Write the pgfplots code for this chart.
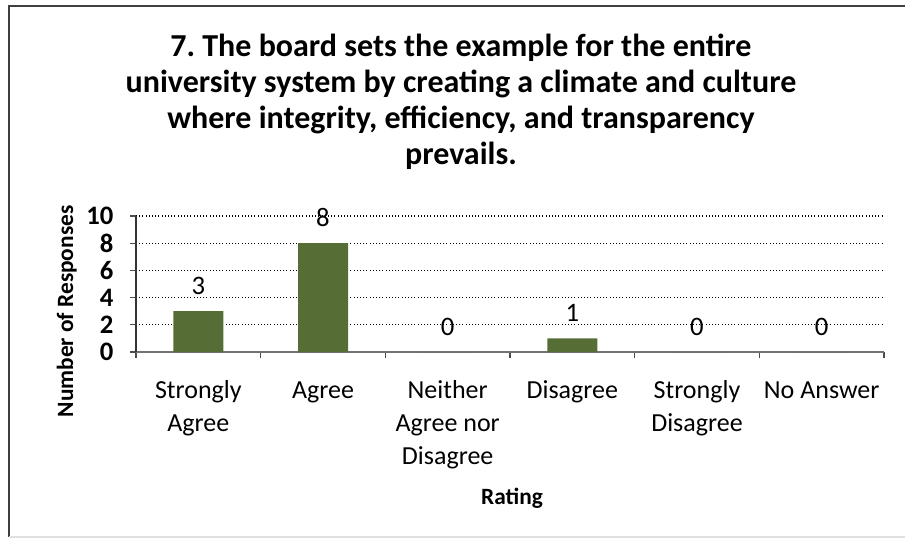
\documentclass[border=0pt]{standalone}
\usepackage{pgfplots}
\pgfplotsset{compat=1.18}
\usepackage{fontspec}
\setmainfont{Carlito}
\frenchspacing
\definecolor{barfill}{RGB}{86,110,54}
\begin{document}
\begin{tikzpicture}
\path[use as bounding box] (0,0) rectangle (679.5pt,405pt);
\draw[black!75, line width=1.2pt] (6.75pt,2.25pt) -- (6.75pt,400.5pt) -- (679pt,400.5pt);
\draw[black!12, line width=0.8pt] (6.75pt,2.25pt) -- (679pt,2.25pt);
\begin{axis}[
  at={(102pt,141pt)}, anchor=south west,
  scale only axis, width=561pt, height=102pt,
  xmin=-0.5, xmax=5.5, ymin=0, ymax=10,
  axis x line=bottom, axis y line=left,
  axis line style={-},
  x axis line style={draw=black!55, line width=0.9pt},
  y axis line style={draw=black!80, line width=0.9pt},
  ytick={0,2,4,6,8,10},
  ymajorgrids,
  major grid style={black, dotted, line width=0.8pt},
  tick align=outside,
  major tick length=4.5pt,
  every tick/.style={black!70, line width=0.8pt},
  xtick={-0.5,0.5,1.5,2.5,3.5,4.5,5.5},
  xticklabels={},
  extra x ticks={0,1,2,3,4,5},
  extra x tick labels={\strut Strongly\\Agree, \strut Agree, \strut Neither\\Agree nor\\Disagree, \strut Disagree, \strut Strongly\\Disagree, \strut No Answer},
  extra x tick style={major tick length=0pt, grid=none,
    xticklabel style={align=center, font=\fontsize{19.5}{24.75}\selectfont, anchor=north, yshift=-14pt}},
  /pgf/number format/assume math mode=true,
  yticklabel style={font=\fontsize{20}{22}\selectfont\bfseries, xshift=-9pt},
  ybar, bar width=37.5pt,
  nodes near coords,
  every node near coord/.append style={font=\fontsize{20}{22}\selectfont, anchor=base, yshift=12.5pt},
]
\addplot[fill=barfill, draw=none] coordinates {(0,3) (1,8) (2,0) (3,1) (4,0) (5,0)};
\end{axis}
\node[align=center, font=\fontsize{24}{27}\selectfont\bfseries] at (345.75pt,328.8pt)
  {7. The board sets the example for the entire\\university system by creating a climate and culture\\where integrity, efficiency, and transparency\\prevails.};
\node[rotate=90, font=\fontsize{17.5}{20}\selectfont\bfseries] at (50pt,171.4pt) {Number of Responses};
\node[font=\fontsize{17.5}{20}\selectfont\bfseries] at (384pt,31.5pt) {Rating};
\end{tikzpicture}
\end{document}
